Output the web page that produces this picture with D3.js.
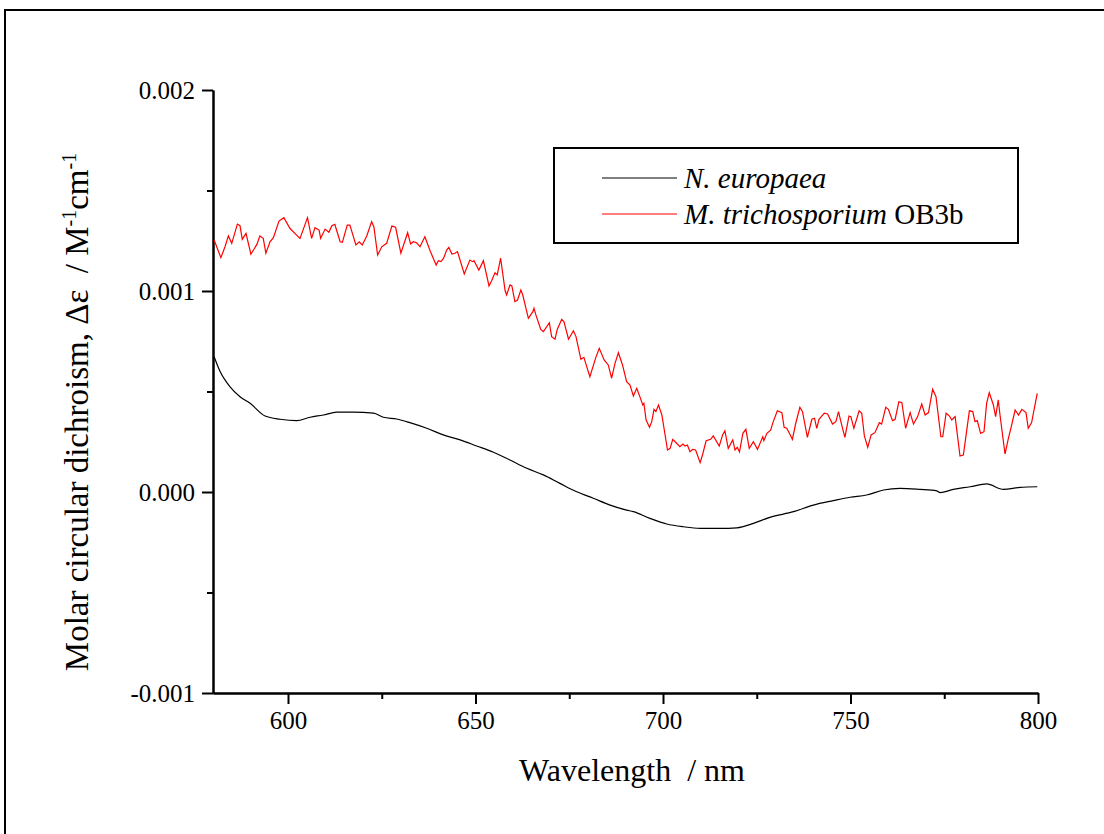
<!DOCTYPE html>
<html>
<head>
<meta charset="utf-8">
<script src="https://cdn.jsdelivr.net/npm/d3@7"></script>
<style>
  body { margin: 0; background: #fff; }
  text { font-family: "Liberation Serif", "Times New Roman", Times, "DejaVu Serif", "Noto Serif", Tinos, FreeSerif, "Nimbus Roman", serif; fill: #000; white-space: pre; }
</style>
</head>
<body>
<div id="main"></div>
<script>
/*********************************************************
 * Data (wavelength nm, delta eps)
 *********************************************************/

const nEuropaea = [
  [580.3, 0.673e-3], [581.9, 0.599e-3], [584.5, 0.524e-3], [587.2, 0.474e-3],
  [589.9, 0.441e-3], [593.9, 0.378e-3], [597.9, 0.362e-3], [602.3, 0.355e-3],
  [605.9, 0.372e-3], [609.4, 0.383e-3], [613.0, 0.397e-3], [617.4, 0.397e-3],
  [622.8, 0.392e-3], [625.4, 0.372e-3], [629.0, 0.363e-3], [632.5, 0.345e-3],
  [637.0, 0.317e-3], [641.4, 0.284e-3], [645.9, 0.259e-3], [650.3, 0.229e-3],
  [654.8, 0.198e-3], [659.2, 0.159e-3], [663.7, 0.118e-3], [668.1, 0.085e-3],
  [672.5, 0.043e-3], [677.0, 0.001e-3], [681.4, -0.031e-3], [685.9, -0.065e-3],
  [690.3, -0.090e-3], [692.1, -0.098e-3], [696.5, -0.131e-3], [701.0, -0.159e-3],
  [705.4, -0.173e-3], [709.9, -0.181e-3], [715.2, -0.181e-3], [719.7, -0.178e-3],
  [724.1, -0.156e-3], [728.5, -0.126e-3], [734.8, -0.098e-3], [740.1, -0.065e-3],
  [745.4, -0.043e-3], [749.9, -0.026e-3], [754.3, -0.015e-3], [758.8, 0.010e-3],
  [763.2, 0.018e-3], [768.5, 0.013e-3], [773.0, 0.006e-3], [773.9, -0.003e-3],
  [777.4, 0.013e-3], [781.9, 0.026e-3], [786.3, 0.040e-3], [790.8, 0.013e-3],
  [795.2, 0.023e-3], [799.8, 0.026e-3]
];

const mTrichosporium = [
  [580.3, 1.254e-3], [582.1, 1.166e-3], [583.2, 1.220e-3], [584.1, 1.274e-3], [585.0, 1.237e-3],
  [586.5, 1.333e-3], [587.2, 1.325e-3], [587.8, 1.257e-3], [588.8, 1.287e-3], [590.1, 1.183e-3],
  [591.7, 1.232e-3], [592.5, 1.274e-3], [593.4, 1.262e-3], [594.1, 1.188e-3], [595.2, 1.245e-3],
  [596.1, 1.265e-3], [597.6, 1.348e-3], [598.9, 1.365e-3], [600.5, 1.312e-3], [602.1, 1.282e-3],
  [603.2, 1.262e-3], [605.2, 1.365e-3], [606.3, 1.262e-3], [607.2, 1.315e-3], [608.3, 1.303e-3],
  [608.7, 1.262e-3], [609.9, 1.308e-3], [610.9, 1.292e-3], [611.7, 1.325e-3], [612.5, 1.332e-3],
  [612.8, 1.312e-3], [613.9, 1.245e-3], [614.5, 1.242e-3], [615.8, 1.328e-3], [616.5, 1.328e-3],
  [618.1, 1.229e-3], [619.0, 1.245e-3], [619.8, 1.229e-3], [621.0, 1.274e-3], [622.3, 1.345e-3],
  [622.9, 1.320e-3], [623.9, 1.179e-3], [625.0, 1.220e-3], [626.3, 1.237e-3], [627.7, 1.323e-3],
  [628.7, 1.317e-3], [630.1, 1.188e-3], [631.9, 1.290e-3], [632.7, 1.234e-3], [633.4, 1.245e-3],
  [634.3, 1.240e-3], [635.2, 1.220e-3], [636.5, 1.270e-3], [637.9, 1.200e-3], [639.5, 1.129e-3],
  [640.1, 1.151e-3], [640.8, 1.146e-3], [641.5, 1.163e-3], [642.3, 1.204e-3], [642.9, 1.217e-3],
  [643.7, 1.184e-3], [644.5, 1.188e-3], [645.2, 1.196e-3], [647.0, 1.085e-3], [648.5, 1.154e-3],
  [649.2, 1.146e-3], [649.6, 1.151e-3], [650.9, 1.104e-3], [652.1, 1.151e-3], [653.6, 1.025e-3],
  [654.3, 1.051e-3], [655.2, 1.091e-3], [655.8, 1.080e-3], [656.7, 1.163e-3], [657.9, 1.001e-3],
  [658.3, 0.980e-3], [659.2, 1.030e-3], [659.7, 1.025e-3], [660.5, 0.947e-3], [661.2, 0.955e-3],
  [662.1, 1.005e-3], [662.6, 0.980e-3], [664.1, 0.864e-3], [665.3, 0.897e-3], [665.6, 0.914e-3],
  [666.1, 0.881e-3], [667.4, 0.809e-3], [668.1, 0.798e-3], [669.7, 0.842e-3], [670.3, 0.773e-3],
  [671.2, 0.760e-3], [671.8, 0.809e-3], [673.0, 0.859e-3], [673.6, 0.847e-3], [674.8, 0.760e-3],
  [676.1, 0.802e-3], [676.8, 0.773e-3], [678.1, 0.660e-3], [678.9, 0.670e-3], [680.5, 0.574e-3],
  [682.1, 0.670e-3], [683.0, 0.715e-3], [684.3, 0.657e-3], [685.4, 0.632e-3], [686.3, 0.566e-3],
  [687.2, 0.640e-3], [688.1, 0.693e-3], [689.2, 0.632e-3], [690.3, 0.549e-3], [691.2, 0.532e-3],
  [692.1, 0.478e-3], [693.0, 0.516e-3], [693.9, 0.471e-3], [694.6, 0.433e-3], [694.9, 0.441e-3],
  [695.5, 0.358e-3], [696.4, 0.322e-3], [697.0, 0.350e-3], [697.6, 0.411e-3], [698.1, 0.400e-3],
  [698.8, 0.433e-3], [699.7, 0.383e-3], [701.2, 0.209e-3], [701.9, 0.217e-3], [702.6, 0.262e-3],
  [703.5, 0.245e-3], [704.5, 0.225e-3], [705.3, 0.239e-3], [705.9, 0.229e-3], [706.5, 0.234e-3],
  [707.2, 0.200e-3], [707.9, 0.212e-3], [708.7, 0.209e-3], [709.9, 0.146e-3], [710.6, 0.189e-3],
  [711.5, 0.255e-3], [712.7, 0.262e-3], [713.4, 0.279e-3], [715.0, 0.229e-3], [715.9, 0.284e-3],
  [716.5, 0.305e-3], [717.4, 0.217e-3], [718.6, 0.259e-3], [719.2, 0.209e-3], [719.8, 0.222e-3],
  [720.4, 0.200e-3], [721.3, 0.292e-3], [722.1, 0.312e-3], [723.0, 0.217e-3], [724.1, 0.250e-3],
  [725.2, 0.212e-3], [726.6, 0.275e-3], [726.9, 0.255e-3], [727.7, 0.292e-3], [728.7, 0.308e-3],
  [729.4, 0.350e-3], [730.5, 0.404e-3], [731.7, 0.395e-3], [732.3, 0.322e-3], [733.0, 0.317e-3],
  [733.7, 0.292e-3], [734.5, 0.262e-3], [735.4, 0.342e-3], [736.5, 0.421e-3], [737.2, 0.400e-3],
  [738.5, 0.272e-3], [739.7, 0.362e-3], [740.4, 0.367e-3], [741.0, 0.317e-3], [741.6, 0.362e-3],
  [743.0, 0.392e-3], [743.9, 0.388e-3], [745.2, 0.338e-3], [746.1, 0.350e-3], [746.8, 0.400e-3],
  [747.5, 0.345e-3], [748.5, 0.272e-3], [749.6, 0.378e-3], [750.1, 0.375e-3], [750.9, 0.317e-3],
  [752.3, 0.404e-3], [753.0, 0.392e-3], [753.7, 0.279e-3], [754.6, 0.222e-3], [755.5, 0.284e-3],
  [756.5, 0.295e-3], [757.7, 0.345e-3], [758.3, 0.338e-3], [759.4, 0.421e-3], [760.1, 0.411e-3],
  [761.2, 0.355e-3], [761.9, 0.362e-3], [762.9, 0.449e-3], [763.7, 0.444e-3], [764.7, 0.317e-3],
  [765.9, 0.395e-3], [766.8, 0.338e-3], [767.9, 0.375e-3], [769.0, 0.438e-3], [769.9, 0.383e-3],
  [770.8, 0.395e-3], [771.9, 0.511e-3], [772.8, 0.474e-3], [774.1, 0.275e-3], [774.6, 0.275e-3],
  [775.5, 0.392e-3], [776.4, 0.378e-3], [777.0, 0.358e-3], [777.9, 0.375e-3], [779.2, 0.179e-3],
  [780.1, 0.184e-3], [781.7, 0.404e-3], [782.6, 0.400e-3], [783.2, 0.350e-3], [783.8, 0.355e-3],
  [784.7, 0.292e-3], [785.6, 0.300e-3], [786.3, 0.441e-3], [787.0, 0.494e-3], [788.1, 0.433e-3],
  [788.7, 0.375e-3], [789.4, 0.458e-3], [789.9, 0.378e-3], [791.2, 0.189e-3], [792.1, 0.267e-3],
  [792.7, 0.312e-3], [793.9, 0.408e-3], [794.8, 0.383e-3], [795.7, 0.411e-3], [796.8, 0.395e-3],
  [797.4, 0.317e-3], [798.3, 0.345e-3], [799.2, 0.433e-3], [799.8, 0.491e-3]
];

const xMajorTicks = [600, 650, 700, 750, 800];
const xMinorTicks = [625, 675, 725, 775];
const yMajorTicks = [-0.001, 0, 0.001, 0.002];
const yMinorTicks = [-0.0005, 0.0005, 0.0015];

/*********************************************************
 * Layout
 *********************************************************/

const svgWidth = 1104;
const svgHeight = 834;
const plot = { l: 213, r: 1038, t: 90, b: 693 };
const fontSerif = '"Liberation Serif", "Times New Roman", Times, "DejaVu Serif", "Noto Serif", Tinos, FreeSerif, "Nimbus Roman", serif';

const svg = d3
  .select('#main')
  .append('svg')
  .attr('width', svgWidth)
  .attr('height', svgHeight)
  .style('font-family', fontSerif);

svg.append('rect')
  .attr('width', svgWidth)
  .attr('height', svgHeight)
  .attr('fill', '#fff');

// outer frame (runs past the right and bottom edge)
svg.append('rect')
  .attr('x', 5)
  .attr('y', 10)
  .attr('width', svgWidth + 20)
  .attr('height', svgHeight + 20)
  .attr('fill', 'none')
  .attr('stroke', '#000')
  .attr('stroke-width', 2);

const x = d3.scaleLinear().domain([580, 800]).range([plot.l, plot.r]);
const y = d3.scaleLinear().domain([-0.001, 0.002]).range([plot.b, plot.t]);

/*********************************************************
 * Axes
 *********************************************************/

function styleAxis(g) {
  g.attr('font-family', null).attr('font-size', null).style('font-family', fontSerif);
  g.select('.domain').attr('stroke', '#000').attr('stroke-width', 2);
  g.selectAll('.tick line').attr('stroke', '#000').attr('stroke-width', 2);
  g.selectAll('.tick text')
    .style('font-family', fontSerif)
    .style('font-size', '25px')
    .attr('fill', '#000');
}

svg.append('g')
  .attr('transform', `translate(0,${plot.b})`)
  .call(d3.axisBottom(x).tickValues(xMinorTicks).tickSize(6).tickSizeOuter(0).tickFormat(''))
  .call(styleAxis);

svg.append('g')
  .attr('transform', `translate(0,${plot.b})`)
  .call(d3.axisBottom(x).tickValues(xMajorTicks).tickSize(11).tickSizeOuter(0).tickPadding(7).tickFormat(d3.format('d')))
  .call(styleAxis);

svg.append('g')
  .attr('transform', `translate(${plot.l},0)`)
  .call(d3.axisLeft(y).tickValues(yMinorTicks).tickSize(6).tickSizeOuter(0).tickFormat(''))
  .call(styleAxis);

svg.append('g')
  .attr('transform', `translate(${plot.l},0)`)
  .call(d3.axisLeft(y).tickValues(yMajorTicks).tickSize(11).tickSizeOuter(0).tickPadding(7)
    .tickFormat(d => d.toFixed(3)))
  .call(styleAxis);

// axis titles
svg.append('text')
  .attr('x', 632)
  .attr('y', 781)
  .attr('text-anchor', 'middle')
  .attr('font-size', 32)
  .style('font-family', fontSerif)
  .text('Wavelength  / nm');

const yTitle = svg.append('text')
  .attr('transform', 'translate(88,412) rotate(-90)')
  .attr('text-anchor', 'middle')
  .attr('font-size', 33)
  .style('font-family', fontSerif);
yTitle.append('tspan').text('Molar circular dichroism, \u0394\u03b5  / M');
yTitle.append('tspan').attr('dy', -12).attr('font-size', 20).text('-1');
yTitle.append('tspan').attr('dy', 12).text('cm');
yTitle.append('tspan').attr('dy', -12).attr('font-size', 20).text('-1');

/*********************************************************
 * Spectra
 *********************************************************/

const line = d3.line()
  .x(d => x(d[0]))
  .y(d => y(d[1]));

svg.append('path')
  .datum(nEuropaea)
  .attr('d', line.curve(d3.curveMonotoneX))
  .attr('fill', 'none')
  .attr('stroke', '#000')
  .attr('stroke-width', 1.2);

svg.append('path')
  .datum(mTrichosporium)
  .attr('d', line.curve(d3.curveLinear))
  .attr('fill', 'none')
  .attr('stroke', '#ff0000')
  .attr('stroke-width', 1.2);

/*********************************************************
 * Legend
 *********************************************************/

const legend = svg.append('g');
legend.append('rect')
  .attr('x', 554)
  .attr('y', 148)
  .attr('width', 464)
  .attr('height', 95)
  .attr('fill', '#fff')
  .attr('stroke', '#000')
  .attr('stroke-width', 2);

const legendItems = [
  { italic: 'N. europaea', plain: '', color: '#000' },
  { italic: 'M. trichosporium', plain: ' OB3b', color: '#ff0000' }
];

legendItems.forEach((d, i) => {
  const ly = 178 + i * 36;
  legend.append('line')
    .attr('x1', 602).attr('x2', 677)
    .attr('y1', ly).attr('y2', ly)
    .attr('stroke', d.color)
    .attr('stroke-width', 1.2);
  const t = legend.append('text')
    .attr('x', 684)
    .attr('y', ly + 10)
    .attr('font-size', 29)
    .style('font-family', fontSerif);
  t.append('tspan').attr('font-style', 'italic').text(d.italic);
  if (d.plain) t.append('tspan').text(d.plain);
});
</script>
</body>
</html>
